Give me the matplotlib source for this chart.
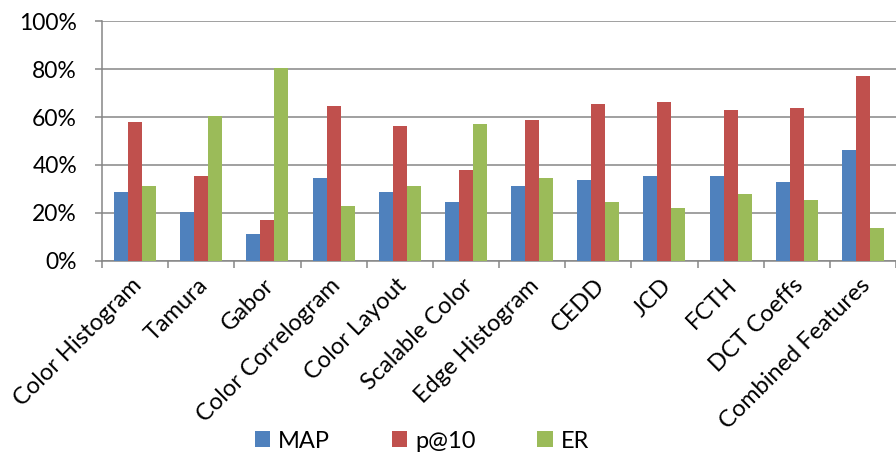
import matplotlib
matplotlib.use("Agg")
import matplotlib.pyplot as plt
import numpy as np
from matplotlib.transforms import offset_copy

# Retrieval performance per descriptor
categories = ["Color Histogram", "Tamura", "Gabor", "Color Correlogram", "Color Layout",
              "Scalable Color", "Edge Histogram", "CEDD", "JCD", "FCTH", "DCT Coeffs",
              "Combined Features"]
map_vals = [28.7, 20.3, 11.1, 34.5, 28.7, 24.5, 31.2, 33.7, 35.4, 35.4, 32.9, 46.2]
p10_vals = [57.9, 35.4, 17.0, 64.6, 56.3, 37.9, 58.8, 65.5, 66.3, 63.0, 63.8, 77.2]
er_vals = [31.2, 60.4, 80.5, 22.8, 31.2, 57.1, 34.5, 24.5, 22.0, 27.9, 25.3, 13.6]
series_names = ["MAP", "p@10", "ER"]
y_ticks = [0, 20, 40, 60, 80, 100]

colors = ["#4F81BD", "#C0504D", "#9BBB59"]
grid_col = "#868686"

plt.rcParams["font.family"] = ["Lato", "DejaVu Sans"]

W, H = 896, 454
fig = plt.figure(figsize=(W / 100, H / 100), dpi=100)
left, right, top, bottom = 102.0, 896, 21.3, 260.7
ax = fig.add_axes([left / W, 1 - bottom / H, (right - left) / W, (bottom - top) / H])

x = np.arange(len(categories))
bw = 0.212
for i, (vals, c, name) in enumerate(zip([map_vals, p10_vals, er_vals], colors, series_names)):
    ax.bar(x + (i - 1) * bw, vals, width=bw, color=c, label=name, zorder=3)

ax.set_xlim(-0.5, len(categories) - 0.5)
ax.set_ylim(0, 100)
ax.set_yticks(y_ticks)
ax.set_yticklabels([f"{v}%" for v in y_ticks], fontsize=16.5, color="black")
ax.yaxis.grid(True, color=grid_col, linewidth=1.1, zorder=0)
ax.set_axisbelow(True)

# category boundary ticks on x axis
ax.set_xticks(np.arange(-0.5, len(categories) + 0.5, 1.0))
ax.set_xticklabels([])
ax.tick_params(axis="x", direction="out", length=5, width=1.1, color=grid_col)
ax.tick_params(axis="y", direction="out", length=5, width=1.1, color=grid_col, pad=13)

for s in ["top", "right"]:
    ax.spines[s].set_visible(False)
for s in ["left", "bottom"]:
    ax.spines[s].set_color(grid_col)
    ax.spines[s].set_linewidth(1.1)

# rotated category labels
trans = ax.get_xaxis_transform()
lab_trans = offset_copy(trans, fig=fig, x=-4, y=-14, units="dots")
for xi, name in zip(x, categories):
    ax.text(xi, 0, name, transform=lab_trans, rotation=45, rotation_mode="anchor",
            ha="right", va="top", fontsize=17, clip_on=False)

leg = fig.legend(loc="center", bbox_to_anchor=(422 / W, 1 - 441 / H), ncol=3,
                 frameon=False, fontsize=17, handlelength=0.65, handleheight=0.65,
                 handletextpad=0.35, columnspacing=2.6)

fig.savefig("out.png", dpi=100)
